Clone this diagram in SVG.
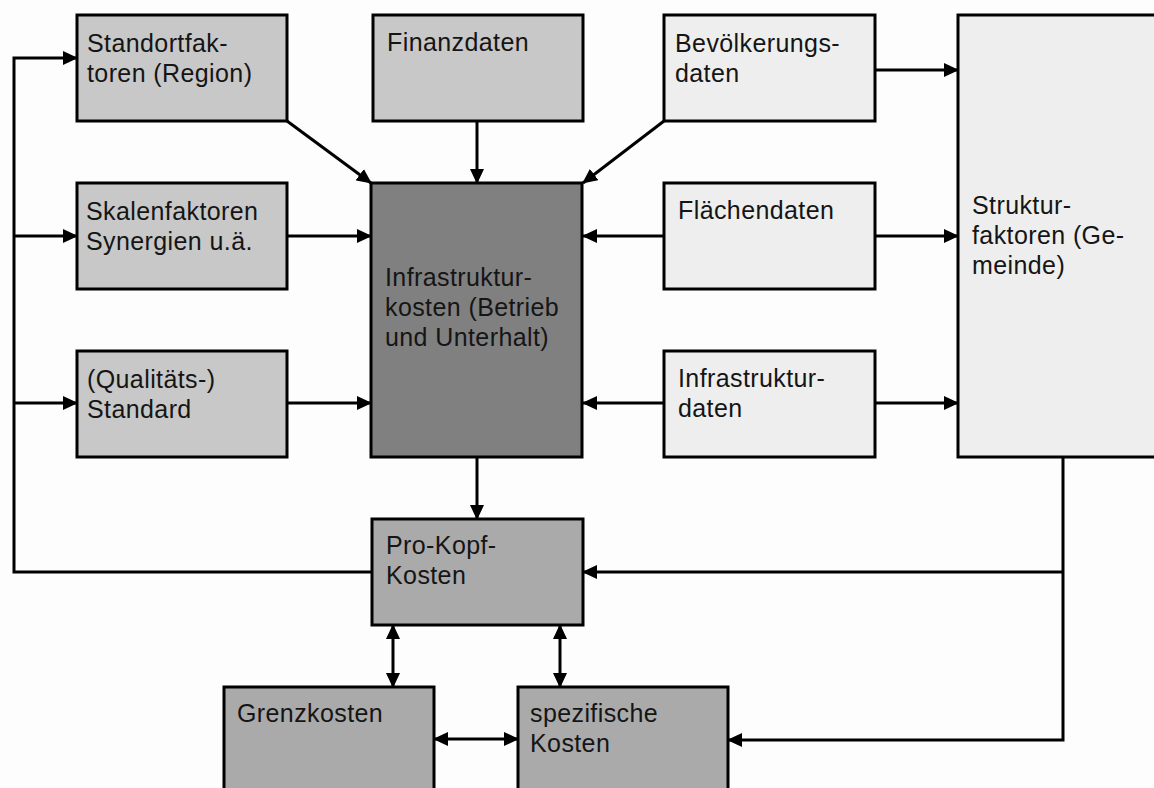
<svg xmlns="http://www.w3.org/2000/svg" width="1154" height="788" viewBox="0 0 1154 788">
<defs>
<marker id="ah" markerUnits="userSpaceOnUse" markerWidth="15" markerHeight="14" refX="14" refY="7" orient="auto-start-reverse">
<path d="M0,0 L15,7 L0,14 z" fill="#000"/>
</marker>
<style>
.box{stroke:#000;stroke-width:3}
.a{fill:#c8c8c8}
.b{fill:#eeeeee}
.c{fill:#808080}
.d{fill:#aaaaaa}
text{font-family:"Liberation Sans",Arial,sans-serif;font-size:25px;letter-spacing:0.4px;fill:#151515}
.ln{fill:none;stroke:#000;stroke-width:3}
.ar{marker-end:url(#ah)}
.ar2{marker-start:url(#ah);marker-end:url(#ah)}
</style>
</defs>
<rect width="1154" height="788" fill="#fdfdfd"/>
<g id="connectors">
<path class="ln ar" d="M372,572 H14 V58 H77"/>
<path class="ln ar" d="M14,236 H77"/>
<path class="ln ar" d="M14,403 H77"/>
<path class="ln ar" d="M287,121 L371,183"/>
<path class="ln ar" d="M477,121 V183"/>
<path class="ln ar" d="M664,121 L583,183"/>
<path class="ln ar" d="M875,70 H958"/>
<path class="ln ar" d="M287,236 H371"/>
<path class="ln ar" d="M664,236 H583"/>
<path class="ln ar" d="M875,236 H958"/>
<path class="ln ar" d="M287,403 H371"/>
<path class="ln ar" d="M664,403 H583"/>
<path class="ln ar" d="M875,403 H958"/>
<path class="ln ar" d="M477,457 V519"/>
<path class="ln ar" d="M1063,457 V740 H728"/>
<path class="ln ar" d="M1063,572 H583"/>
<path class="ln ar2" d="M393,625 V687"/>
<path class="ln ar2" d="M560,625 V687"/>
<path class="ln ar2" d="M434,739 H518"/>
</g>
<g id="standortfaktoren"><rect class="box a" x="77" y="15" width="210" height="106"/><text x="87" y="52">Standortfak-</text><text x="87" y="82">toren (Region)</text></g>
<g id="finanzdaten"><rect class="box a" x="373" y="15" width="210" height="106"/><text x="387" y="51">Finanzdaten</text></g>
<g id="bevoelkerungsdaten"><rect class="box b" x="664" y="15" width="211" height="106"/><text x="675" y="52">Bevölkerungs-</text><text x="675" y="82">daten</text></g>
<g id="strukturfaktoren"><rect class="box b" x="958" y="15" width="210" height="442"/><text x="972" y="214">Struktur-</text><text x="972" y="244">faktoren (Ge-</text><text x="972" y="274">meinde)</text></g>
<g id="skalenfaktoren"><rect class="box a" x="77" y="183" width="210" height="106"/><text x="86" y="220">Skalenfaktoren</text><text x="86" y="250">Synergien u.ä.</text></g>
<g id="infrastrukturkosten"><rect class="box c" x="371" y="183" width="211" height="274"/><text x="385" y="286">Infrastruktur-</text><text x="385" y="316">kosten (Betrieb</text><text x="385" y="346">und Unterhalt)</text></g>
<g id="flaechendaten"><rect class="box b" x="664" y="183" width="211" height="106"/><text x="678" y="219">Flächendaten</text></g>
<g id="qualitaetsstandard"><rect class="box a" x="77" y="351" width="210" height="106"/><text x="87" y="388">(Qualitäts-)</text><text x="87" y="418">Standard</text></g>
<g id="infrastrukturdaten"><rect class="box b" x="664" y="351" width="211" height="106"/><text x="678" y="387">Infrastruktur-</text><text x="678" y="417">daten</text></g>
<g id="prokopfkosten"><rect class="box d" x="372" y="519" width="211" height="106"/><text x="386" y="554">Pro-Kopf-</text><text x="386" y="584">Kosten</text></g>
<g id="grenzkosten"><rect class="box d" x="224" y="687" width="210" height="120"/><text x="237" y="722">Grenzkosten</text></g>
<g id="spezifischekosten"><rect class="box d" x="518" y="687" width="210" height="120"/><text x="530" y="722">spezifische</text><text x="530" y="752">Kosten</text></g>
</svg>
